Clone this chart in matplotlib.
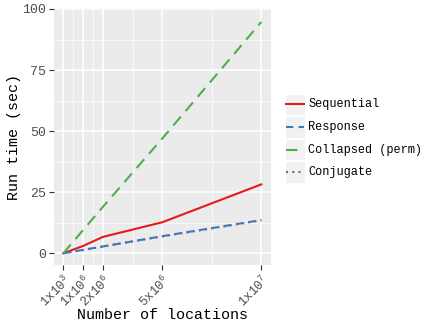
import numpy as np
import matplotlib
matplotlib.use("Agg")
import matplotlib.pyplot as plt
from matplotlib.patches import Rectangle
from matplotlib.lines import Line2D

# Data
locations = [1e3, 1e6, 2e6, 5e6, 1e7]
sequential = [0.0, 3.0, 6.7, 12.7, 28.2]
response = [0.0, 1.4, 2.8, 7.0, 13.6]
collapsed = [0.0, 9.5, 19.0, 47.0, 94.7]
conjugate = [0.0, 1.35, 2.75, 6.9, 13.5]

series_names = ["Sequential", "Response", "Collapsed (perm)", "Conjugate"]
series_vals = [sequential, response, collapsed, conjugate]
colors = ["#E41A1C", "#377EB8", "#4DAF4A", "#984EA3"]
styles = ["-", (0, (3.5, 2.5)), (0, (5.5, 3.5)), (0, (1, 2))]

x_ticks = [1e3, 1e6, 2e6, 5e6, 1e7]
x_labels = [r"1x10$^{3}$", r"1x10$^{6}$", r"2x10$^{6}$", r"5x10$^{6}$", r"1x10$^{7}$"]
y_ticks = [0, 25, 50, 75, 100]

plt.rcParams['font.family'] = ['Liberation Mono', 'DejaVu Sans']
plt.rcParams['mathtext.fontset'] = 'custom'
plt.rcParams['mathtext.rm'] = 'Liberation Mono'
plt.rcParams['mathtext.it'] = 'Liberation Mono'

W, H = 436, 327
fig = plt.figure(figsize=(W / 100, H / 100), dpi=100)
ax = fig.add_axes([54 / W, (H - 265) / H, (271 - 54) / W, (265 - 8) / H])
ax.set_facecolor("#EBEBEB")
for s in ax.spines.values():
    s.set_visible(False)

# conjugate sits under response, draw it first
order = [3, 0, 1, 2]
for i in order:
    ax.plot(locations, series_vals[i], color=colors[i], linestyle=styles[i],
            lw=1.5, zorder=3 if i != 3 else 2)

ax.set_xlim(-4.7e5, 1.049e7)
ax.set_ylim(-4.8, 100.4)
ax.set_xticks(x_ticks)
ax.set_xticklabels(x_labels, rotation=45, ha='right', va='top',
                   rotation_mode='anchor', color="#4D4D4D", fontsize=9)
ax.set_yticks(y_ticks)
ax.set_yticklabels([str(v) for v in y_ticks], color="#4D4D4D", fontsize=9.5)
ax.set_xticks([5.005e5, 1.5e6, 3.5e6, 7.5e6], minor=True)
ax.set_yticks([12.5, 37.5, 62.5, 87.5], minor=True)
ax.tick_params(which='major', length=3.5, width=0.8, color="#333333", pad=2)
ax.tick_params(which='minor', length=0)
ax.grid(which='major', color='white', lw=1.1)
ax.grid(which='minor', color='white', lw=0.5)
ax.set_axisbelow(True)

ax.set_xlabel("Number of locations", fontsize=10.8, labelpad=-1)
ax.set_ylabel("Run time (sec)", fontsize=10.8, labelpad=1)

# legend drawn by hand so the keys get ggplot's grey boxes
rows_y = [104.3, 127.0, 149.5, 172.0]
for name, c, ls, y in zip(series_names, colors, styles, rows_y):
    fig.patches.append(Rectangle((284.5 / W, 1 - (y + 10.5) / H), 20.5 / W, 21 / H,
                                 transform=fig.transFigure, facecolor="#F2F2F2",
                                 edgecolor='white', lw=0.8))
    fig.lines.append(Line2D([286 / W, 304 / W], [1 - y / H, 1 - y / H],
                            transform=fig.transFigure, color=c, linestyle=ls, lw=1.5))
    fig.text(308 / W, 1 - y / H, name, fontsize=8.6, va='center', ha='left', color='black')

fig.savefig("out.png", dpi=100)
